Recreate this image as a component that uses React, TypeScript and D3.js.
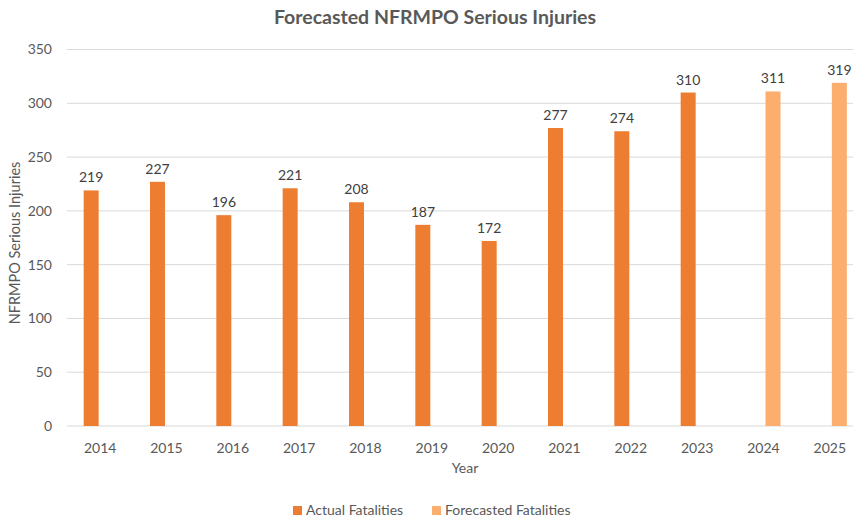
import React from 'react';
import * as d3 from 'd3';

const years = ['2014', '2015', '2016', '2017', '2018', '2019', '2020', '2021', '2022', '2023', '2024', '2025'];
const actualFatalities = [219, 227, 196, 221, 208, 187, 172, 277, 274, 310, null, null];
const forecastedFatalities = [null, null, null, null, null, null, null, null, null, null, 311, 319];
const seriesNames = ['Actual Fatalities', 'Forecasted Fatalities'];
const seriesColors = ['#ED7D31', '#FBAE6E'];
const yTicks = [0, 50, 100, 150, 200, 250, 300, 350];

const W = 853, H = 518;
const font = 'Lato, "Open Sans", sans-serif';

export default function App() {
  const x = d3.scaleBand<string>().domain(years).range([67, 863]).padding(0);
  const x1 = d3.scaleBand<string>().domain(seriesNames).range([-16.5, 17]).paddingInner(0.19);
  const y = d3.scaleLinear().domain([0, 350]).range([426, 49.5]);

  const series = [actualFatalities, forecastedFatalities];
  const bars: { year: string; s: string; v: number; color: string }[] = [];
  series.forEach((vals, si) => {
    vals.forEach((v, i) => {
      if (v != null) bars.push({ year: years[i], s: seriesNames[si], v, color: seriesColors[si] });
    });
  });

  const plotMid = (67 + 863) / 2;

  return (
    <div style={{ position: 'fixed', left: 0, top: 0 }}>
      <svg width={W} height={H} style={{ display: 'block', background: '#fff' }} fontFamily={font}>
        <text x={435} y={24} textAnchor="middle" fontSize={19.5} fontWeight="bold" fill="#595959">
          Forecasted NFRMPO Serious Injuries
        </text>

        {yTicks.map((t) => (
          <g key={t}>
            <line x1={67} x2={W} y1={y(t)} y2={y(t)} stroke="#D9D9D9" strokeWidth={1} />
            <text x={52} y={y(t)} dy="0.35em" textAnchor="end" fontSize={14} fill="#595959">{t}</text>
          </g>
        ))}

        {bars.map((b) => {
          const cx = x(b.year)! + x.bandwidth() / 2 + x1(b.s)!;
          return (
            <g key={b.year + b.s}>
              <rect x={cx} y={y(b.v)} width={x1.bandwidth()} height={y(0) - y(b.v)} fill={b.color} />
              <text x={cx + x1.bandwidth() / 2} y={y(b.v) - 8} textAnchor="middle" fontSize={14} fill="#404040">{b.v}</text>
            </g>
          );
        })}

        {years.map((yr) => (
          <text key={yr} x={x(yr)! + x.bandwidth() / 2} y={453} textAnchor="middle" fontSize={14} fill="#595959">{yr}</text>
        ))}

        <text x={plotMid} y={473} textAnchor="middle" fontSize={14} fill="#595959">Year</text>
        <text transform={`translate(20,243) rotate(-90)`} textAnchor="middle" fontSize={14.5} fill="#595959">NFRMPO Serious Injuries</text>

        <g>
          <rect x={293} y={506} width={9} height={9} fill={seriesColors[0]} />
          <text x={306} y={515} fontSize={14} fill="#595959">{seriesNames[0]}</text>
          <rect x={432} y={506} width={9} height={9} fill={seriesColors[1]} />
          <text x={445} y={515} fontSize={14} fill="#595959">{seriesNames[1]}</text>
        </g>
      </svg>
    </div>
  );
}
